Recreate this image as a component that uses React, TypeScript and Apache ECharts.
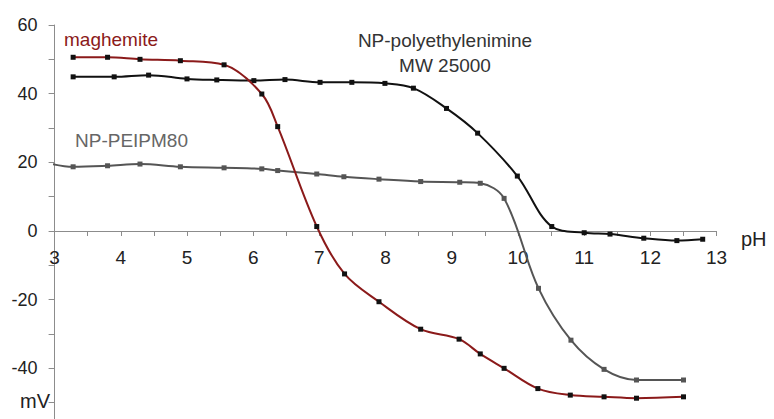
import React, { useEffect, useRef } from "react";
import * as echarts from "echarts";

const maghemiteX = [3.28, 3.8, 4.29, 4.9, 5.56, 6.13, 6.37, 6.96, 7.38, 7.9, 8.53, 9.11, 9.43, 9.79, 10.3, 10.79, 11.3, 11.79, 12.5];
const maghemiteY = [50.6, 50.6, 50.0, 49.6, 48.4, 39.9, 30.4, 1.3, -12.5, -20.6, -28.6, -31.5, -35.8, -40.0, -45.9, -47.8, -48.3, -48.7, -48.3];

const peiX = [3.28, 3.9, 4.42, 5.0, 5.45, 6.01, 6.48, 7.01, 7.49, 7.99, 8.42, 8.92, 9.39, 9.99, 10.51, 11.0, 11.39, 11.9, 12.4, 12.79];
const peiY = [44.9, 44.9, 45.4, 44.3, 44.0, 43.8, 44.1, 43.3, 43.3, 43.0, 41.6, 35.7, 28.5, 16.0, 1.3, -0.5, -0.9, -2.1, -2.8, -2.4];

const peipmX = [2.85, 3.28, 3.8, 4.29, 4.9, 5.56, 6.13, 6.37, 6.96, 7.37, 7.9, 8.53, 9.12, 9.43, 9.79, 10.31, 10.8, 11.3, 11.79, 12.5];
const peipmY = [20.0, 18.7, 19.0, 19.5, 18.7, 18.4, 18.1, 17.6, 16.6, 15.8, 15.1, 14.4, 14.2, 13.9, 9.5, -16.7, -31.8, -40.3, -43.4, -43.4];

const seriesNames = ["maghemite", "NP-polyethylenimine MW 25000", "NP-PEIPM80"];

const FONT = "'Liberation Sans', Arial, sans-serif";

const W = 774;
const H = 437;
const TOP = 25;

function pairs(xs: number[], ys: number[]) {
  return xs.map((x, i) => [x, ys[i]]);
}

export default function App() {
  const ref = useRef<HTMLDivElement>(null);
  useEffect(() => {
    if (!ref.current) return;
    const chart = echarts.init(ref.current, undefined, { renderer: "svg" });
    const axisColor = "#8c8c8c";
    const plotH = H - TOP;
    chart.setOption({
      animation: false,
      backgroundColor: "#ffffff",
      grid: { left: 54.6, right: 57.4, top: TOP, bottom: 0, containLabel: false, outerBoundsMode: "none" },
      xAxis: {
        type: "value",
        position: "bottom",
        offset: -plotH / 2,
        min: 3,
        max: 13,
        interval: 0.5,
        axisLine: { onZero: false, lineStyle: { color: axisColor, width: 1 } },
        axisTick: { show: true, length: 5, lineStyle: { color: axisColor } },
        splitLine: { show: false },
        axisLabel: {
          margin: 17,
          color: "#222",
          fontSize: 19,
          fontFamily: FONT,
          formatter: (v: number) => (Math.abs(v - Math.round(v)) < 1e-6 ? String(Math.round(v)) : ""),
        },
      },
      yAxis: {
        type: "value",
        min: -60,
        max: 60,
        interval: 10,
        axisLine: { show: true, onZero: false, lineStyle: { color: axisColor, width: 1 } },
        axisTick: { show: true, length: 6, lineStyle: { color: axisColor } },
        splitLine: { show: false },
        axisLabel: {
          margin: 17,
          color: "#222",
          fontSize: 18,
          fontFamily: FONT,
          formatter: (v: number) => (Math.round(v) % 20 === 0 && v > -60 ? String(v) : ""),
        },
      },
      series: [
        {
          name: seriesNames[0],
          type: "line",
          data: pairs(maghemiteX, maghemiteY),
          smooth: 0.35,
          clip: true,
          symbol: "rect",
          symbolSize: 5,
          lineStyle: { color: "#8b1a1a", width: 2 },
          itemStyle: { color: "#111" },
          z: 3,
        },
        {
          name: seriesNames[1],
          type: "line",
          data: pairs(peiX, peiY),
          smooth: 0.35,
          clip: true,
          symbol: "rect",
          symbolSize: 5,
          lineStyle: { color: "#111", width: 2 },
          itemStyle: { color: "#111" },
          z: 2,
        },
        {
          name: seriesNames[2],
          type: "line",
          data: pairs(peipmX, peipmY),
          smooth: 0.35,
          clip: true,
          symbol: "rect",
          symbolSize: 5,
          lineStyle: { color: "#555", width: 2 },
          itemStyle: { color: "#555" },
          z: 2,
        },
      ],
      graphic: [
        {
          type: "text",
          left: 64,
          top: 30,
          style: { text: "maghemite", fill: "#8b1a1a", font: `19px ${FONT}` },
        },
        {
          type: "text",
          x: 445,
          y: 28,
          style: {
            text: "NP-polyethylenimine\nMW 25000",
            fill: "#333",
            font: `19px ${FONT}`,
            align: "center",
            verticalAlign: "top",
            lineHeight: 25,
          },
        },
        {
          type: "text",
          left: 75,
          top: 131,
          style: { text: "NP-PEIPM80", fill: "#666", font: `19px ${FONT}` },
        },
        {
          type: "text",
          left: 741,
          top: 229,
          style: { text: "pH", fill: "#222", font: `20px ${FONT}` },
        },
        {
          type: "text",
          left: 20,
          top: 391,
          style: { text: "mV", fill: "#222", font: `20px ${FONT}` },
        },
      ],
    });
    return () => chart.dispose();
  }, []);
  return (
    <div
      ref={ref}
      style={{ position: "fixed", left: 0, top: 0, width: W, height: H, background: "#fff" }}
    />
  );
}
